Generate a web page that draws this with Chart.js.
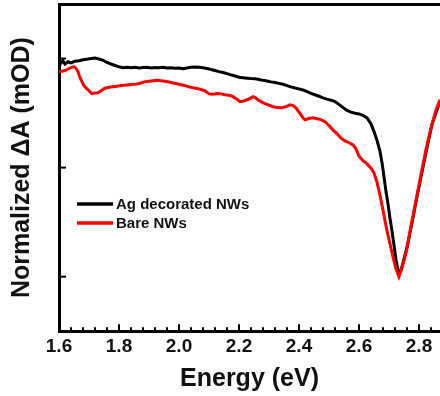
<!DOCTYPE html>
<html>
<head>
<meta charset="utf-8">
<script src="https://cdn.jsdelivr.net/npm/chart.js@4"></script>
<style>
  html, body { margin: 0; padding: 0; background: #fff; }
  #wrap { width: 440px; height: 396px; position: relative; }
</style>
</head>
<body>
<div id="wrap"><canvas id="chSpec"></canvas></div>
<script>
// Ag decorated NWs (black)
var agEnergy = [1.600, 1.607, 1.613, 1.620, 1.630, 1.640, 1.653, 1.667, 1.680, 1.693, 1.707, 1.720, 1.733, 1.747, 1.760, 1.773, 1.787, 1.800,
    1.813, 1.827, 1.840, 1.853, 1.867, 1.880, 1.893, 1.907, 1.920, 1.933, 1.947, 1.960, 1.973, 1.987, 2.000, 2.013, 2.027, 2.040,
    2.053, 2.067, 2.080, 2.093, 2.107, 2.120, 2.133, 2.147, 2.160, 2.173, 2.187, 2.200, 2.213, 2.227, 2.240, 2.253, 2.267, 2.280,
    2.293, 2.307, 2.320, 2.333, 2.347, 2.360, 2.373, 2.387, 2.400, 2.413, 2.427, 2.440, 2.453, 2.467, 2.480, 2.493, 2.507, 2.520,
    2.533, 2.547, 2.560, 2.573, 2.587, 2.600, 2.613, 2.627, 2.640, 2.650, 2.660, 2.670, 2.677, 2.683, 2.690, 2.697, 2.703, 2.710,
    2.717, 2.723, 2.730, 2.735, 2.740, 2.747, 2.760, 2.777, 2.793, 2.810, 2.827, 2.843, 2.860, 2.870];
var agValues = [-0.005, -0.020, -0.010, -0.025, -0.015, -0.020, -0.012, -0.010, -0.006, -0.003, 0.000, 0.002, -0.002, -0.008, -0.018, -0.025, -0.032, -0.038,
    -0.042, -0.040, -0.042, -0.040, -0.043, -0.041, -0.040, -0.043, -0.041, -0.042, -0.040, -0.043, -0.042, -0.045, -0.044, -0.047, -0.043, -0.040,
    -0.039, -0.040, -0.042, -0.046, -0.050, -0.055, -0.060, -0.064, -0.069, -0.075, -0.080, -0.086, -0.088, -0.090, -0.092, -0.093, -0.096, -0.100,
    -0.103, -0.107, -0.110, -0.114, -0.118, -0.124, -0.130, -0.135, -0.139, -0.144, -0.152, -0.160, -0.166, -0.173, -0.180, -0.186, -0.191, -0.197,
    -0.210, -0.225, -0.238, -0.246, -0.251, -0.254, -0.260, -0.272, -0.300, -0.335, -0.375, -0.425, -0.480, -0.540, -0.610, -0.670, -0.730, -0.790,
    -0.860, -0.920, -0.970, -0.985, -0.970, -0.935, -0.866, -0.751, -0.636, -0.521, -0.406, -0.304, -0.235, -0.195];

// Bare NWs (red)
var bareEnergy = [1.600, 1.610, 1.620, 1.630, 1.640, 1.650, 1.657, 1.663, 1.670, 1.677, 1.683, 1.690, 1.697, 1.703, 1.710, 1.720, 1.730, 1.740,
    1.753, 1.767, 1.780, 1.793, 1.807, 1.820, 1.833, 1.847, 1.860, 1.873, 1.887, 1.900, 1.913, 1.927, 1.940, 1.953, 1.967, 1.980,
    1.993, 2.007, 2.020, 2.033, 2.047, 2.060, 2.073, 2.087, 2.100, 2.113, 2.127, 2.140, 2.153, 2.167, 2.180, 2.193, 2.203, 2.213,
    2.227, 2.240, 2.247, 2.253, 2.263, 2.273, 2.287, 2.300, 2.313, 2.327, 2.343, 2.357, 2.370, 2.380, 2.390, 2.397, 2.405, 2.413,
    2.420, 2.433, 2.447, 2.460, 2.473, 2.487, 2.500, 2.513, 2.527, 2.540, 2.553, 2.567, 2.580, 2.590, 2.600, 2.613, 2.627, 2.640,
    2.650, 2.660, 2.670, 2.680, 2.693, 2.703, 2.713, 2.723, 2.733, 2.743, 2.757, 2.773, 2.790, 2.807, 2.823, 2.840, 2.857, 2.870];
var bareValues = [-0.060, -0.058, -0.055, -0.048, -0.042, -0.037, -0.045, -0.060, -0.088, -0.108, -0.124, -0.135, -0.143, -0.152, -0.161, -0.158, -0.157, -0.148,
    -0.136, -0.132, -0.129, -0.127, -0.124, -0.122, -0.120, -0.118, -0.117, -0.112, -0.106, -0.104, -0.102, -0.100, -0.102, -0.104, -0.108, -0.112,
    -0.116, -0.120, -0.124, -0.130, -0.134, -0.137, -0.142, -0.148, -0.162, -0.164, -0.160, -0.162, -0.166, -0.168, -0.175, -0.186, -0.198, -0.196,
    -0.189, -0.180, -0.175, -0.178, -0.189, -0.198, -0.207, -0.214, -0.221, -0.225, -0.226, -0.220, -0.212, -0.216, -0.226, -0.240, -0.255, -0.272,
    -0.281, -0.275, -0.272, -0.276, -0.280, -0.290, -0.308, -0.327, -0.345, -0.365, -0.378, -0.386, -0.396, -0.415, -0.448, -0.468, -0.483, -0.503,
    -0.525, -0.567, -0.627, -0.696, -0.788, -0.848, -0.908, -0.963, -1.000, -0.963, -0.889, -0.770, -0.650, -0.530, -0.419, -0.318, -0.235, -0.189];

var xLabels = ['1.6', '1.8', '2.0', '2.2', '2.4', '2.6', '2.8'];
var yTickValues = [0, -0.5, -1];
var seriesNames = ['Ag decorated NWs', 'Bare NWs'];
var colors = ['#000000', '#ff0000'];

var FONT = "'Liberation Sans', Arial, sans-serif";

function pairs(xs, ys) {
    return xs.map(function (x, i) { return { x: x, y: ys[i] }; });
}

// minor ticks every 0.04 eV, labelled ones every 0.2
var xTickValues = [];
for (var t = 1.6; t < 2.875; t += 0.04) xTickValues.push(Math.round(t * 100) / 100);

function isMajor(v) {
    return xLabels.indexOf(v.toFixed(1)) >= 0 && Math.abs(v * 5 - Math.round(v * 5)) < 1e-6;
}

// ticks point into the plot, so draw them ourselves from the scales
var inwardTicks = {
    id: 'inwardTicks',
    afterDraw: function (chart) {
        var ctx = chart.ctx, area = chart.chartArea;
        var xs = chart.scales.x, ys = chart.scales.y;
        ctx.save();
        ctx.strokeStyle = '#000';
        ctx.lineWidth = 2;
        xTickValues.forEach(function (v) {
            var px = xs.getPixelForValue(v);
            var len = isMajor(v) ? 7 : 4;
            ctx.beginPath();
            ctx.moveTo(px, area.bottom);
            ctx.lineTo(px, area.bottom - len);
            ctx.stroke();
        });
        yTickValues.forEach(function (v) {
            var py = ys.getPixelForValue(v);
            ctx.beginPath();
            ctx.moveTo(area.left, py);
            ctx.lineTo(area.left + 7, py);
            ctx.stroke();
        });
        ctx.restore();
    }
};

var boxLegend = {
    id: 'boxLegend',
    afterDraw: function (chart, args, opts) {
        var ctx = chart.ctx;
        ctx.save();
        ctx.font = 'bold 15px ' + FONT;
        ctx.textBaseline = 'middle';
        chart.data.datasets.forEach(function (ds, i) {
            var y = opts.y + i * opts.gap;
            ctx.strokeStyle = ds.borderColor;
            ctx.lineWidth = 3.5;
            ctx.beginPath();
            ctx.moveTo(opts.x, y);
            ctx.lineTo(opts.x + opts.len, y);
            ctx.stroke();
            ctx.fillStyle = '#111';
            ctx.fillText(ds.label, opts.x + opts.len + 3, y + 1);
        });
        ctx.restore();
    }
};

var ctx = document.getElementById('chSpec').getContext('2d');
var chart = new Chart(ctx, {
    type: 'line',
    data: {
        datasets: [{
            label: seriesNames[0],
            data: pairs(agEnergy, agValues),
            borderColor: colors[0],
            backgroundColor: colors[0],
            borderWidth: 3,
            pointRadius: 0,
            tension: 0,
            order: 1
        }, {
            label: seriesNames[1],
            data: pairs(bareEnergy, bareValues),
            borderColor: colors[1],
            backgroundColor: colors[1],
            borderWidth: 3,
            pointRadius: 0,
            tension: 0,
            order: 0
        }]
    },
    options: {
        responsive: true,
        maintainAspectRatio: false,
        animation: false,
        layout: { padding: { top: 4, left: 7, right: 0, bottom: 2 } },
        plugins: {
            legend: { display: false },
            tooltip: { enabled: false },
            boxLegend: { x: 77, y: 204, gap: 19, len: 36 }
        },
        scales: {
            x: {
                type: 'linear',
                position: 'bottom',
                min: 1.6,
                max: 2.87,
                afterBuildTicks: function (scale) {
                    scale.ticks = xTickValues.map(function (v) { return { value: v }; });
                },
                ticks: {
                    autoSkip: false,
                    maxRotation: 0,
                    padding: 4,
                    color: '#111',
                    font: { family: FONT, size: 19, weight: 'bold' },
                    callback: function (v) { return isMajor(v) ? v.toFixed(1) : ''; }
                },
                grid: { display: false, drawTicks: false },
                border: { display: true, color: '#000', width: 3 },
                title: {
                    display: true,
                    text: 'Energy (eV)',
                    color: '#111',
                    font: { family: FONT, size: 25, weight: 'bold' },
                    padding: { top: 2, bottom: 0 }
                }
            },
            xTop: {
                type: 'linear',
                position: 'top',
                min: 1.6,
                max: 2.87,
                ticks: { display: false },
                grid: { display: false, drawTicks: false },
                border: { display: true, color: '#000', width: 3 }
            },
            y: {
                min: -1.25,
                max: 0.25,
                afterBuildTicks: function (scale) {
                    scale.ticks = yTickValues.map(function (v) { return { value: v }; });
                },
                ticks: { display: false },
                grid: { display: false, drawTicks: false },
                border: { display: true, color: '#000', width: 3 },
                title: {
                    display: true,
                    text: 'Normalized \u0394A (mOD)',
                    color: '#111',
                    font: { family: FONT, size: 25, weight: 'bold' },
                    padding: { top: 0, bottom: 22 }
                }
            }
        }
    },
    plugins: [inwardTicks, boxLegend]
});
</script>
</body>
</html>
